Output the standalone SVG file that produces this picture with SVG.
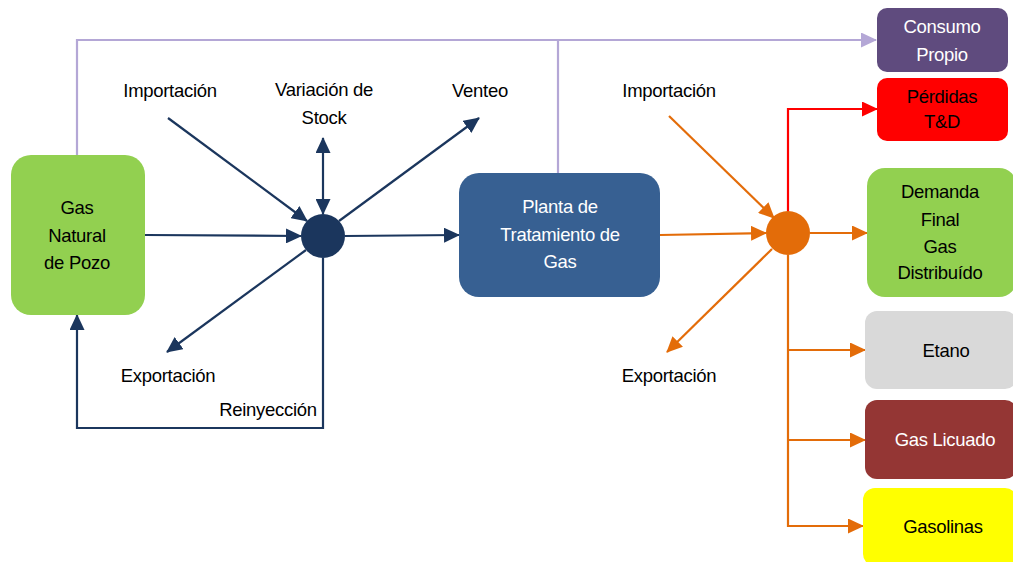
<svg xmlns="http://www.w3.org/2000/svg" width="1013" height="562" viewBox="0 0 1013 562">
<defs>
<style>
text{font-family:"Liberation Sans",Arial,sans-serif;font-size:18.5px;text-anchor:middle;letter-spacing:-0.3px}
.w{fill:#ffffff}
.k{fill:#000000}
.navy{stroke:#1B365D;stroke-width:2.2;fill:none}
.org{stroke:#E36C09;stroke-width:2.2;fill:none}
.red{stroke:#FF0000;stroke-width:2.2;fill:none}
.pur{stroke:#B4A7D6;stroke-width:2.2;fill:none}
</style>
<marker id="an" viewBox="0 0 16 15" refX="15" refY="7.5" markerWidth="16" markerHeight="15" markerUnits="userSpaceOnUse" orient="auto-start-reverse"><path d="M0,0 L16,7.5 L0,15 z" fill="#1B365D"/></marker>
<marker id="ao" viewBox="0 0 16 15" refX="15" refY="7.5" markerWidth="16" markerHeight="15" markerUnits="userSpaceOnUse" orient="auto"><path d="M0,0 L16,7.5 L0,15 z" fill="#E36C09"/></marker>
<marker id="ar" viewBox="0 0 16 15" refX="15" refY="7.5" markerWidth="16" markerHeight="15" markerUnits="userSpaceOnUse" orient="auto"><path d="M0,0 L16,7.5 L0,15 z" fill="#FF0000"/></marker>
<marker id="ap" viewBox="0 0 16 15" refX="15" refY="7.5" markerWidth="16" markerHeight="15" markerUnits="userSpaceOnUse" orient="auto"><path d="M0,0 L16,7.5 L0,15 z" fill="#B4A7D6"/></marker>
</defs>
<rect width="1013" height="562" fill="#ffffff"/>

<g id="connectors">
<path class="pur" d="M77,155 V40 H876" marker-end="url(#ap)"/>
<path class="pur" d="M558,40 V173"/>
<path class="navy" d="M145,235 L301,236" marker-end="url(#an)"/>
<path class="navy" d="M168,118 L307,221" marker-end="url(#an)"/>
<path class="navy" d="M323,138 V214" marker-start="url(#an)" marker-end="url(#an)"/>
<path class="navy" d="M339,221 L479,118" marker-end="url(#an)"/>
<path class="navy" d="M306,250 L167,352" marker-end="url(#an)"/>
<path class="navy" d="M345,236 L459,235" marker-end="url(#an)"/>
<path class="navy" d="M323,258 V428 H77 V315" marker-end="url(#an)"/>
<path class="org" d="M660,235 L766,233" marker-end="url(#ao)"/>
<path class="org" d="M669,116 L774,218" marker-end="url(#ao)"/>
<path class="org" d="M772,249 L667,352" marker-end="url(#ao)"/>
<path class="red" d="M788,212 V109 H877" marker-end="url(#ar)"/>
<path class="org" d="M810,233 H867" marker-end="url(#ao)"/>
<path class="org" d="M788,255 V526 H850"/>
<path class="org" d="M788,350 H865" marker-end="url(#ao)"/>
<path class="org" d="M788,440 H865" marker-end="url(#ao)"/>
<path class="org" d="M788,526 H863" marker-end="url(#ao)"/>
</g>

<g id="pozo">
<rect x="11" y="155" width="134" height="160" rx="20" fill="#92D050"/>
<text class="k" x="77" y="214">Gas</text>
<text class="k" x="77" y="242">Natural</text>
<text class="k" x="77" y="269">de Pozo</text>
</g>

<g id="hub1"><circle cx="323" cy="236" r="22" fill="#1B365D"/></g>
<g id="hub2"><circle cx="788" cy="233" r="22" fill="#E36C09"/></g>

<g id="planta">
<rect x="459" y="173" width="201" height="124" rx="20" fill="#376092"/>
<text class="w" x="560" y="213">Planta de</text>
<text class="w" x="560" y="241">Tratamiento de</text>
<text class="w" x="560" y="268">Gas</text>
</g>

<g id="consumo">
<rect x="877" y="8" width="131" height="64" rx="10" fill="#5F4B7E"/>
<text class="w" x="942" y="33">Consumo</text>
<text class="w" x="942" y="61">Propio</text>
</g>
<g id="perdidas">
<rect x="877" y="78" width="131" height="63" rx="10" fill="#FF0000"/>
<text class="k" x="942" y="103">Pérdidas</text>
<text class="k" x="942" y="128">T&amp;D</text>
</g>
<g id="demanda">
<rect x="867" y="168" width="150" height="129" rx="18" fill="#92D050"/>
<text class="k" x="940" y="198">Demanda</text>
<text class="k" x="940" y="226">Final</text>
<text class="k" x="940" y="253">Gas</text>
<text class="k" x="940" y="279">Distribuído</text>
</g>
<g id="etano">
<rect x="865" y="311" width="152" height="78" rx="12" fill="#D9D9D9"/>
<text class="k" x="946" y="357">Etano</text>
</g>
<g id="licuado">
<rect x="865" y="400" width="152" height="79" rx="12" fill="#943634"/>
<text class="w" x="945" y="446">Gas Licuado</text>
</g>
<g id="gasolinas">
<rect x="863" y="488" width="154" height="78" rx="12" fill="#FFFF00"/>
<text class="k" x="943" y="533">Gasolinas</text>
</g>

<g id="labels">
<text class="k" x="170" y="97">Importación</text>
<text class="k" x="324" y="96">Variación de</text>
<text class="k" x="324" y="124">Stock</text>
<text class="k" x="480" y="97">Venteo</text>
<text class="k" x="669" y="97">Importación</text>
<text class="k" x="168" y="382">Exportación</text>
<text class="k" x="268" y="416">Reinyección</text>
<text class="k" x="669" y="382">Exportación</text>
</g>
</svg>
